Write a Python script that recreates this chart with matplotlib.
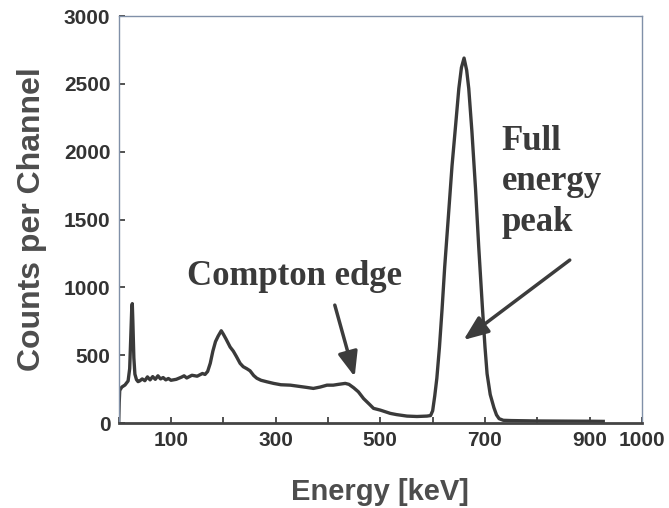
import matplotlib.pyplot as plt
import numpy as np

# Cs-137 style spectrum (keV, counts per channel)
energy = [0, 1, 2, 6, 12, 18, 21, 23, 25, 26, 27, 29, 31, 34, 37, 40,
          45, 50, 55, 60, 65, 70, 75, 80, 85, 90, 95, 100, 110, 120, 125,
          130, 140, 150, 160, 165, 170, 175, 180, 185, 190, 196, 200, 205,
          213, 219, 225, 232, 238, 245, 251, 258, 264, 272, 283, 296, 310,
          328, 345, 360, 372, 385, 398, 410, 420, 433, 440, 449, 458, 468,
          480, 487, 500, 519, 531, 551, 570, 589, 596, 600, 604, 608, 613,
          618, 623, 630, 637, 644, 650, 655, 660, 665, 669, 675, 682, 688,
          695, 700, 704, 710, 717, 722, 727, 735, 750, 800, 850, 900, 926]
counts = [0, 150, 240, 265, 280, 310, 400, 620, 850, 880, 760, 480, 360, 320, 305, 310,
          325, 312, 340, 318, 342, 322, 348, 325, 335, 318, 328, 315, 322, 338, 348,
          332, 352, 345, 365, 358, 380, 440, 530, 600, 640, 680, 655, 620,
          560, 530, 490, 440, 415, 400, 385, 350, 330, 315, 304, 292, 282,
          279, 270, 262, 255, 265, 279, 279, 285, 292, 285, 260, 230, 180,
          135, 108, 95, 71, 62, 51, 48, 51, 55, 90, 200, 330, 560,
          840, 1150, 1520, 1895, 2200, 2465, 2620, 2690, 2600, 2465, 2150, 1722, 1300,
          856, 560, 363, 210, 114, 60, 32, 20, 18, 15, 14, 13, 12]

x_major = [100, 300, 500, 700, 900, 1000]
x_minor = [0, 200, 400, 600, 800]
y_ticks = [0, 500, 1000, 1500, 2000, 2500, 3000]

fig = plt.figure(figsize=(6.69, 5.08), dpi=100)
ax = fig.add_axes([0.1774, 0.1673, 0.7822, 0.8012])

ax.plot(energy, counts, color='#3a3a3a', lw=2.4, solid_joinstyle='round')

ax.set_xlim(0, 1000)
ax.set_ylim(0, 3000)
ax.set_xticks(x_major)
ax.set_xticks(x_minor, minor=True)
ax.set_yticks(y_ticks)
ax.tick_params(axis='both', which='both', direction='in', length=4,
               width=1.2, color='#333333', top=False, right=False)
ax.tick_params(axis='both', labelsize=15, labelcolor='#333333', pad=6)
for lab in ax.get_xticklabels() + ax.get_yticklabels():
    lab.set_fontweight('bold')
    lab.set_family('Liberation Sans')

for side in ['top', 'right', 'left']:
    ax.spines[side].set_color('#8090a8')
    ax.spines[side].set_linewidth(1.0)
ax.spines['bottom'].set_color('#444444')
ax.spines['bottom'].set_linewidth(2.0)

ax.set_ylabel('Counts per Channel', fontsize=23, fontweight='bold',
              color='#4d4d4d', family='Liberation Sans', labelpad=12)
ax.set_xlabel('Energy [keV]', fontsize=21, fontweight='bold',
              color='#4d4d4d', family='Liberation Sans', labelpad=20)

arrow = dict(arrowstyle='-|>,head_length=0.5,head_width=0.2', lw=2.5,
             color='#3c3c3c', mutation_scale=30, shrinkA=0, shrinkB=0)
ax.annotate('', xy=(451, 341), xytext=(413, 869), arrowprops=arrow)
ax.annotate('', xy=(659, 612), xytext=(862, 1201), arrowprops=arrow)

ax.text(130, 1017, 'Compton edge', fontsize=25, fontweight='bold',
        family='Liberation Serif', color='#3a3a3a', ha='left', va='baseline')
ax.text(732, 2200, 'Full\nenergy\npeak', fontsize=25, fontweight='bold',
        family='Liberation Serif', color='#3a3a3a', ha='left', va='top',
        linespacing=1.3)

fig.savefig('out.png', dpi=100)
